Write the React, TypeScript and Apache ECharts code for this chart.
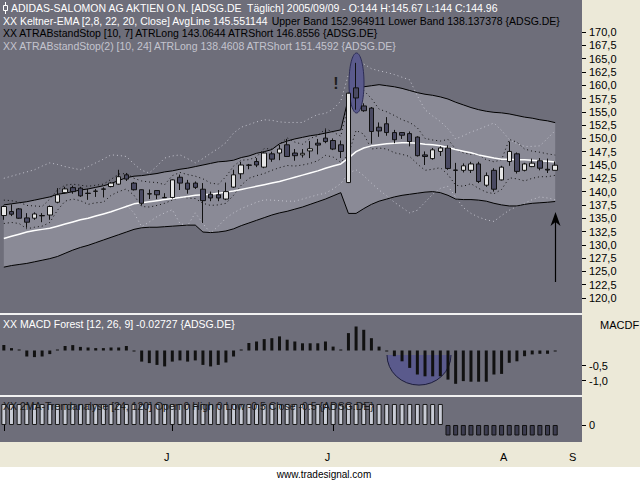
import React, { useEffect, useRef } from 'react';
import * as echarts from 'echarts';

const FONT = '"Liberation Sans", Arial, sans-serif';

// trading days (Jun 1 2005 .. Sep 9 2005) + 3 empty future slots
const categories: string[] = [
  '2005-06-01','2005-06-02','2005-06-03','2005-06-06','2005-06-07','2005-06-08','2005-06-09','2005-06-10',
  '2005-06-13','2005-06-14','2005-06-15','2005-06-16','2005-06-17','2005-06-20','2005-06-21','2005-06-22',
  '2005-06-23','2005-06-24','2005-06-27','2005-06-28','2005-06-29','2005-06-30',
  '2005-07-01','2005-07-04','2005-07-05','2005-07-06','2005-07-07','2005-07-08','2005-07-11','2005-07-12',
  '2005-07-13','2005-07-14','2005-07-15','2005-07-18','2005-07-19','2005-07-20','2005-07-21','2005-07-22',
  '2005-07-25','2005-07-26','2005-07-27','2005-07-28','2005-07-29',
  '2005-08-01','2005-08-02','2005-08-03','2005-08-04','2005-08-05','2005-08-08','2005-08-09','2005-08-10',
  '2005-08-11','2005-08-12','2005-08-15','2005-08-16','2005-08-17','2005-08-18','2005-08-19','2005-08-22',
  '2005-08-23','2005-08-24','2005-08-25','2005-08-26','2005-08-29','2005-08-30','2005-08-31',
  '2005-09-01','2005-09-02','2005-09-05','2005-09-06','2005-09-07','2005-09-08','2005-09-09',
  '2005-09-12','2005-09-13','2005-09-14',
];

// [open, close, low, high]
const candles: number[][] = [
  [135.5,137.2,134.7,137.4],[136.25,135.75,135.4,137.6],[136.75,135.0,134.9,136.9],[135.05,134.25,133.2,135.95],
  [135.0,135.8,134.7,136.1],[135.5,135.45,134.25,135.95],[135.6,137.2,134.7,137.4],[138.0,139.4,137.8,140.65],
  [139.8,140.5,139.6,140.9],[140.75,140.0,139.6,141.1],[140.65,139.2,139.0,140.9],[139.7,139.65,138.45,140.5],
  [140.1,140.05,139.0,140.5],[140.5,140.45,138.9,140.8],[140.95,141.6,140.8,141.8],[141.4,142.8,141.3,144.1],
  [143.15,142.35,142.0,143.5],[141.6,140.35,140.2,141.8],[140.35,137.8,137.4,140.4],[139.6,139.55,138.6,140.4],
  [140.2,139.4,138.6,140.3],[138.9,138.85,138.8,139.7],[138.9,142.2,138.7,142.3],[142.7,141.6,140.3,143.2],
  [141.6,140.45,139.6,142.2],[141.6,140.8,140.5,141.9],[140.45,138.3,134.1,141.6],[139.5,138.8,138.2,140.0],
  [139.4,138.8,138.2,140.3],[138.6,140.0,138.4,141.7],[140.85,143.15,140.7,144.1],[143.35,145.0,142.4,145.6],
  [145.0,144.95,144.2,145.2],[145.65,145.0,144.6,146.3],[144.6,147.25,144.4,147.5],[147.1,146.1,145.6,147.5],
  [147.25,148.0,145.9,148.8],[148.8,146.6,146.5,149.9],[147.25,146.75,145.8,148.0],[146.9,147.2,146.4,148.0],
  [147.65,148.05,146.3,149.5],[149.1,148.75,147.0,149.9],[150.05,149.4,149.1,151.7],[149.6,148.0,147.8,150.0],
  [148.8,147.55,146.3,149.6],[141.7,158.5,141.6,158.6],[159.5,157.6,155.4,164.2],[156.1,155.2,155.0,156.6],
  [155.7,151.3,149.0,155.9],[152.1,151.4,150.3,153.0],[152.75,151.1,150.5,154.0],[151.1,149.75,149.1,151.6],
  [151.1,150.6,149.9,151.2],[150.9,149.4,148.5,151.3],[150.25,146.75,146.6,150.4],[146.9,146.6,145.0,147.55],
  [146.2,147.85,146.0,148.2],[147.55,148.2,146.7,148.5],[148.2,144.35,144.1,148.7],[144.05,144.0,139.7,145.4],
  [144.0,144.85,143.6,145.3],[144.0,145.2,143.5,145.6],[145.2,141.9,141.6,145.6],[141.2,143.0,140.9,143.6],
  [144.0,140.45,140.0,144.4],[142.2,144.6,142.1,144.85],[145.65,147.55,144.85,149.4],[147.1,143.8,143.4,147.35],
  [144.0,145.2,143.8,145.4],[144.7,145.35,144.6,146.2],[145.8,144.4,144.0,146.3],[144.2,144.05,143.5,146.2],
  [144.0,144.96,144.0,145.67],
];

const upperBand: number[] = [
  137.5,137.7,137.9,138.1,138.4,138.7,139.0,139.5,139.7,140.0,
  140.3,140.5,140.8,141.1,141.5,142.1,142.6,142.9,143.0,143.2,
  143.4,143.7,143.9,144.2,144.4,144.7,145.0,145.3,145.6,145.7,
  145.9,146.4,146.7,147.2,147.5,147.9,149.0,149.5,149.9,150.2,
  150.5,150.7,151.0,151.3,151.6,157.6,159.1,159.7,159.9,160.1,
  159.9,159.7,159.4,159.0,158.6,158.3,158.1,157.8,157.4,156.8,
  156.3,155.8,155.4,155.1,154.9,154.8,154.6,154.3,154.0,153.8,
  153.5,153.3,152.96,
];

const lowerBand: number[] = [
  125.8,126.1,126.3,126.5,126.8,127.1,127.4,127.8,128.4,129.0,
  129.5,129.9,130.4,130.9,131.4,131.9,132.4,132.9,133.2,133.3,
  133.3,133.4,133.5,133.6,133.7,133.7,132.4,132.3,132.4,132.6,
  133.0,133.6,134.1,134.6,135.1,135.6,136.0,136.3,136.7,137.1,
  137.6,138.1,138.6,139.2,139.8,135.9,135.9,136.8,137.6,138.2,
  138.6,139.0,139.3,139.5,139.7,139.9,140.0,139.8,139.3,138.6,
  138.5,138.5,138.4,138.2,137.8,137.5,137.3,137.3,137.6,137.8,
  137.9,138.0,138.14,
];

const avgLine: number[] = [
  131.2,131.6,132.0,132.4,132.7,132.9,133.1,133.5,133.9,134.3,
  134.7,135.0,135.4,135.8,136.2,136.7,137.2,137.7,137.9,138.1,
  138.3,138.5,138.7,138.9,139.1,139.3,139.4,139.5,139.7,139.9,
  140.1,140.4,140.7,141.0,141.3,141.6,141.9,142.3,142.7,143.1,
  143.5,143.9,144.4,144.8,145.2,146.3,147.5,148.2,148.6,148.8,
  149.0,149.1,149.2,149.2,149.1,148.9,148.8,148.6,148.3,147.9,
  147.6,147.3,146.9,146.6,146.3,146.1,146.1,146.0,146.0,145.9,
  145.8,145.7,145.55,
];

const atrShort: number[] = [
  138.4,138.3,138.0,137.4,137.3,137.2,138.6,140.3,141.2,141.4,
  141.2,141.0,141.2,141.4,142.3,143.3,143.4,142.5,142.0,141.8,
  141.7,141.3,143.0,143.6,143.2,142.9,142.4,141.6,141.4,142.8,
  144.8,145.9,146.0,146.5,148.1,148.0,148.9,150.1,149.3,148.9,
  150.0,150.5,151.8,151.2,150.4,156.5,160.5,159.0,157.5,155.5,
  155.0,154.3,153.5,153.0,152.0,150.0,149.7,149.5,149.8,148.0,
  147.3,147.0,146.9,146.0,145.6,146.0,149.8,149.3,148.0,147.6,
  147.4,147.1,146.86,
];

const atrLong: number[] = [
  134.0,134.2,134.0,133.0,133.3,133.5,134.2,136.5,138.2,138.6,
  138.3,137.6,137.9,138.0,139.3,140.0,140.5,139.3,137.2,137.1,
  137.4,137.8,138.4,139.0,138.8,138.7,137.8,137.4,137.5,137.8,
  139.3,141.2,142.5,143.0,143.4,144.0,144.5,144.9,144.8,145.0,
  145.3,145.8,146.8,146.5,145.5,147.0,151.5,150.8,148.0,148.2,
  148.0,147.3,147.0,146.6,145.2,144.0,144.2,144.5,143.2,141.2,
  141.0,141.5,140.6,139.9,139.6,140.4,142.6,142.4,142.0,142.5,
  142.8,142.8,143.06,
];

const atr2Short: number[] = [
  142.5,142.9,143.3,143.7,144.1,144.8,145.4,145.1,144.7,144.4,
  144.1,144.7,145.4,146.1,146.9,146.8,146.6,145.2,144.0,143.5,
  144.8,146.3,146.7,146.9,146.2,145.4,146.2,147.2,148.1,149.2,
  151.0,152.1,152.6,153.1,153.5,153.4,153.1,153.0,153.0,153.0,
  153.8,154.5,154.7,155.5,157.0,162.0,164.8,164.0,163.1,162.7,
  162.4,162.0,161.5,161.0,158.0,155.4,154.2,153.2,151.8,149.9,
  150.5,151.2,151.7,152.3,152.9,151.5,149.8,149.0,148.5,148.5,
  148.6,150.0,151.46,
];

const atr2Long: (number | null)[] = [
  null,null,null,null,null,null,null,null,null,null,null,null,null,null,null,null,
  137.5,136.0,133.4,134.3,135.3,136.0,136.6,134.0,133.6,136.0,
  134.0,132.2,133.5,135.0,136.0,136.8,137.4,138.0,138.45,138.4,
  138.3,138.2,138.2,138.6,139.0,139.4,139.7,140.5,141.5,143.5,
  144.1,143.0,141.6,140.3,139.2,138.0,137.0,136.0,136.5,138.0,
  139.5,140.6,141.0,139.0,137.0,135.9,135.2,134.7,134.4,135.5,
  136.5,137.2,137.8,138.5,139.0,138.8,138.46,
];

const macdForest: number[] = [
  0.18,0.08,0.02,-0.2,-0.22,-0.2,-0.12,0.02,0.15,0.18,
  0.12,0.1,0.08,0.08,0.1,0.1,0.15,-0.03,-0.37,-0.42,
  -0.48,-0.53,-0.37,-0.33,-0.37,-0.33,-0.48,-0.53,-0.48,-0.4,
  -0.2,0.02,0.25,0.3,0.38,0.41,0.47,0.36,0.3,0.24,
  0.24,0.24,0.3,0.13,0.02,0.58,0.8,0.69,0.41,0.13,
  -0.02,-0.19,-0.36,-0.58,-0.8,-0.86,-0.86,-0.86,-0.97,-1.11,
  -1.02,-1.04,-1.04,-1.04,-0.8,-0.78,-0.41,-0.36,-0.19,-0.13,
  -0.11,-0.11,-0.027,
];

const trendValues: number[] = [
  1,1,1,1,1,1,1,1,1,1,
  1,1,1,1,1,1,1,1,1,1,
  1,1,1,1,1,1,1,1,1,1,
  1,1,1,1,1,1,1,1,1,1,
  1,1,1,1,1,1,1,1,1,1,
  1,1,1,1,1,1,1,1,-0.5,-0.5,
  -0.5,-0.5,-0.5,-0.5,-0.5,-0.5,-0.5,-0.5,-0.5,-0.5,
  -0.5,-0.5,-0.5,
];

const monthTickIdx = [0, 22, 43, 66];
const monthLabelIdx = [22, 43, 66, 75];
const monthLabels = ['J', 'J', 'A', 'S'];
const macdTickValues = [-0.5, -1.0];
const trendTickValues = [0];

const PANE = '#6e6e7a';
const BAND = '#8a8a96';
const LEG = 10.5;

function buildOption() {
  const bandDiff = upperBand.map((u, i) => +(u - lowerBand[i]).toFixed(3));
  const commaFmt = (v: number) => v.toFixed(1).replace('.', ',');
  const yBase = {
    type: 'value',
    position: 'right',
    axisLine: { show: false },
    splitLine: { show: false },
    axisTick: { show: true, length: 4, lineStyle: { color: '#000' } },
    axisLabel: { color: '#000', fontSize: 11, fontFamily: FONT, margin: 7 },
  };
  const txt = (x: number, y: number, text: string, fill: string, extra: any = {}) => ({
    type: 'text',
    x,
    y,
    z: 20,
    style: {
      text,
      fill,
      fontSize: LEG,
      fontFamily: FONT,
      verticalAlign: 'middle',
      textVerticalAlign: 'middle',
      ...extra,
    },
  });

  return {
    animation: false,
    backgroundColor: '#ece9d8',
    grid: [
      { left: 0, top: 32, width: 582, height: 266 },
      { left: 0, top: 315, width: 582, height: 80 },
      { left: 0, top: 397, width: 582, height: 45 },
    ],
    xAxis: [
      { type: 'category', data: categories, gridIndex: 0, show: false },
      { type: 'category', data: categories, gridIndex: 1, show: false },
      {
        type: 'category',
        data: categories,
        gridIndex: 2,
        axisLine: { show: false },
        splitLine: { show: false },
        axisTick: {
          show: true,
          alignWithLabel: true,
          length: 6,
          interval: (i: number) => monthTickIdx.includes(i),
          lineStyle: { color: '#000' },
        },
        axisLabel: {
          interval: (i: number) => monthLabelIdx.includes(i),
          formatter: (_v: string, i: number) => {
            const k = monthLabelIdx.indexOf(i);
            return k >= 0 ? monthLabels[k] : '';
          },
          color: '#000',
          fontSize: 11,
          fontFamily: FONT,
          margin: 9,
          padding: [0, 11, 0, 0],
        },
      },
    ],
    yAxis: [
      {
        ...yBase,
        gridIndex: 0,
        min: 120,
        max: 170,
        interval: 2.5,
        axisLabel: { ...yBase.axisLabel, formatter: commaFmt },
      },
      {
        ...yBase,
        gridIndex: 1,
        min: -1.483,
        max: 1.183,
        axisTick: { ...yBase.axisTick, customValues: macdTickValues },
        axisLabel: { ...yBase.axisLabel, customValues: macdTickValues, formatter: commaFmt },
      },
      {
        ...yBase,
        gridIndex: 2,
        min: -0.81,
        max: 1.333,
        axisTick: { ...yBase.axisTick, customValues: trendTickValues },
        axisLabel: { ...yBase.axisLabel, customValues: trendTickValues, formatter: (v: number) => String(Math.round(v)) },
      },
    ],
    series: [
      { type: 'line', data: lowerBand, stack: 'band', symbol: 'none', lineStyle: { opacity: 0 }, z: 1, silent: true },
      { type: 'line', data: bandDiff, stack: 'band', symbol: 'none', lineStyle: { opacity: 0 }, areaStyle: { color: BAND, opacity: 1 }, z: 1, silent: true },
      { type: 'line', data: atr2Short, symbol: 'none', lineStyle: { color: '#c4c4ce', width: 1, type: [1, 3] }, z: 2 },
      { type: 'line', data: atr2Long, symbol: 'none', connectNulls: false, lineStyle: { color: '#c4c4ce', width: 1, type: [1, 3] }, z: 2 },
      { type: 'line', data: atrShort, symbol: 'none', lineStyle: { color: '#111', width: 1, type: [1, 3] }, z: 2 },
      { type: 'line', data: atrLong, symbol: 'none', lineStyle: { color: '#111', width: 1, type: [1, 3] }, z: 2 },
      { type: 'line', data: upperBand, symbol: 'none', lineStyle: { color: '#000', width: 1 }, z: 3 },
      { type: 'line', data: lowerBand, symbol: 'none', lineStyle: { color: '#000', width: 1 }, z: 3 },
      { type: 'line', data: avgLine, symbol: 'none', lineStyle: { color: '#ffffff', width: 1.5 }, z: 3 },
      {
        type: 'candlestick',
        data: candles,
        barWidth: 5,
        itemStyle: { color: '#e6e6e6', color0: '#4a4a62', borderColor: '#111', borderColor0: '#111', borderWidth: 1 },
        z: 6,
      },
      {
        type: 'bar',
        xAxisIndex: 1,
        yAxisIndex: 1,
        data: macdForest,
        barWidth: 3,
        barMinHeight: 1,
        itemStyle: { color: '#111' },
        z: 6,
      },
      {
        type: 'bar',
        xAxisIndex: 2,
        yAxisIndex: 2,
        barWidth: 5,
        data: trendValues.map((v) => ({
          value: v,
          itemStyle: v > 0
            ? { color: '#c9ccd6', borderColor: '#1a1a1a', borderWidth: 1 }
            : { color: '#3e3e52', borderColor: '#111', borderWidth: 1 },
        })),
        z: 6,
      },
    ],
    graphic: [
      { type: 'rect', z: -10, shape: { x: 0, y: 0, width: 582, height: 313 }, style: { fill: PANE } },
      { type: 'rect', z: -10, shape: { x: 0, y: 313, width: 582, height: 2 }, style: { fill: '#f2f2f2' } },
      { type: 'rect', z: -10, shape: { x: 0, y: 315, width: 582, height: 80 }, style: { fill: PANE } },
      { type: 'rect', z: -10, shape: { x: 0, y: 395, width: 582, height: 2 }, style: { fill: '#f2f2f2' } },
      { type: 'rect', z: -10, shape: { x: 0, y: 397, width: 582, height: 45 }, style: { fill: PANE } },
      { type: 'rect', z: -10, shape: { x: 0, y: 467, width: 640, height: 13 }, style: { fill: '#ffffff' } },
      // highlight ellipse around spike
      { type: 'ellipse', z: 4, shape: { cx: 356.5, cy: 83, rx: 7.5, ry: 30 }, style: { fill: '#5a5a8c', stroke: '#2c2c55', lineWidth: 1 } },
      // half ellipse in MACD pane
      { type: 'sector', z: 1, x: 419, y: 355, scaleY: 0.94, shape: { cx: 0, cy: 0, r: 32, r0: 0, startAngle: 0, endAngle: Math.PI }, style: { fill: '#5a5a8c' } },
      { type: 'arc', z: 2, x: 419, y: 355, scaleY: 0.94, shape: { cx: 0, cy: 0, r: 32, startAngle: 0, endAngle: Math.PI }, style: { stroke: '#1a1a3a', lineWidth: 1, fill: 'none' } },
      // arrow
      { type: 'line', z: 20, shape: { x1: 555.5, y1: 282, x2: 555.5, y2: 216 }, style: { stroke: '#000', lineWidth: 1.2 } },
      { type: 'polygon', z: 20, shape: { points: [[555.5, 212], [550.5, 226], [555.5, 222], [560.5, 226]] }, style: { fill: '#000' } },
      // exclamation
      txt(336, 83, '!', '#1e1e1e', { fontSize: 16, fontWeight: 'bold', align: 'center', textAlign: 'center' }),
      // title icon
      { type: 'line', z: 20, shape: { x1: 5.5, y1: 2, x2: 5.5, y2: 14 }, style: { stroke: '#fff', lineWidth: 1 } },
      { type: 'rect', z: 21, shape: { x: 3.5, y: 5.5, width: 4, height: 5 }, style: { fill: PANE, stroke: '#fff', lineWidth: 1 } },
      txt(11, 8, 'ADIDAS-SALOMON AG AKTIEN O.N. [ADSG.DE  Täglich] 2005/09/09 - O:144 H:145.67 L:144 C:144.96', '#ffffff'),
      txt(3, 20.5, '{w|XX Keltner-EMA [2,8, 22, 20, Close] AvgLine 145.551144 }Upper Band 152.964911 Lower Band 138.137378 {ADSG.DE}', '#000000', {
        rich: { w: { fill: '#ffffff', fontSize: LEG, fontFamily: FONT } },
      }),
      txt(3, 33, 'XX ATRABstandStop [10, 7] ATRLong 143.0644 ATRShort 146.8556 {ADSG.DE}', '#000000'),
      txt(3, 45.5, 'XX ATRABstandStop(2) [10, 24] ATRLong 138.4608 ATRShort 151.4592 {ADSG.DE}', '#c4c4ce'),
      txt(3, 324, 'XX MACD Forest [12, 26, 9] -0.02727 {ADSG.DE}', '#ffffff'),
      txt(3, 406, 'XX 2MA-Trendanalyse [24, 120] Open 0 High 0 Low -0.5 Close -0.5 {ADSG.DE}', '#1a1a1a'),
      txt(600, 325, 'MACDF', '#000000', { fontSize: 11 }),
      txt(324, 474, 'www.tradesignal.com', '#000000', { fontSize: 10, align: 'center', textAlign: 'center' }),
    ],
  };
}

export default function App() {
  const ref = useRef<HTMLDivElement>(null);
  useEffect(() => {
    if (!ref.current) return;
    const chart = echarts.init(ref.current, null, { renderer: 'svg' });
    chart.setOption(buildOption() as any);
    return () => chart.dispose();
  }, []);
  return (
    <div
      ref={ref}
      style={{ position: 'absolute', left: 0, top: 0, width: 640, height: 480 }}
    />
  );
}
